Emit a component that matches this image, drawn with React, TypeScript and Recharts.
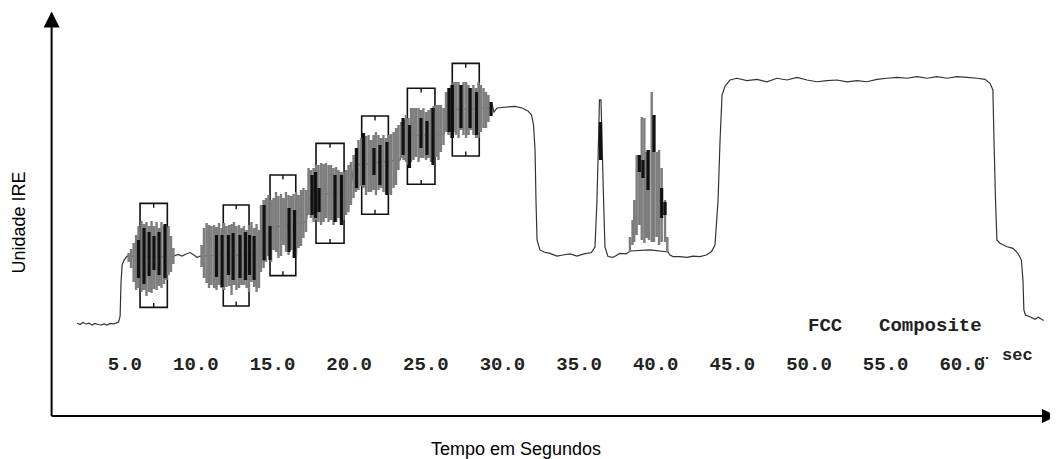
import React from 'react';
import {
  ComposedChart,
  Line,
  XAxis,
  YAxis,
  ReferenceArea,
  ReferenceLine,
  ReferenceDot,
} from 'recharts';

// ---------- data (x in microseconds, y in IRE) ----------
const traceX = [
  0.76, 0.96, 1.15, 1.35, 1.54, 1.74, 1.93, 2.13, 2.33, 2.52, 2.72, 2.91, 3.11, 3.3, 3.47, 3.57, 3.63, 3.7, 3.83, 4.02,
  6.96, 7.09, 7.35, 7.61, 7.87, 8.13, 8.39, 8.59, 8.78,
  10.74, 12.57, 12.83, 14.33, 15.7, 15.96, 18.57, 18.83, 21.83, 22.09, 24.7, 24.96, 27.7, 27.83, 27.96,
  28.16, 28.49, 28.87, 29.33, 29.79, 30.18, 30.41, 30.54, 30.64, 30.7, 30.77, 30.96, 31.22, 31.61, 32.07, 32.46, 32.92,
  33.38, 33.83, 34.32, 34.55, 34.68, 34.78, 34.84, 34.94, 35.01, 35.11, 35.2, 35.4, 35.72, 36.18, 36.6, 36.83, 38.14,
  39.31, 39.44, 39.64, 40.1, 40.55, 40.94, 41.4, 41.82, 42.15, 42.38, 42.58, 42.71, 42.84, 43.04, 43.36,
  43.81, 44.46, 45.12, 45.77, 46.42, 47.07, 47.73, 48.38, 49.03, 49.68, 50.34, 50.99, 51.64, 52.29, 52.95, 53.6,
  54.25, 54.9, 55.56, 56.21, 56.86, 57.51, 58.16, 58.82, 59.47, 59.99, 60.32, 60.51, 60.58, 60.68, 60.77, 60.97,
  61.43, 61.82, 62.14, 62.37, 62.47, 62.53, 62.63, 62.93, 63.25, 63.48, 63.81,
];
const traceY = [
  -38.9, -39.7, -38.6, -39.4, -38.9, -40.0, -39.1, -39.7, -40.0, -39.4, -40.0, -39.1, -39.4, -38.9, -38.3, -34.9, -15.4, -5.7, -2.9, -0.6,
  -1.1, -0.6, 0.3, -0.6, 0.6, 1.4, 0, -1.4, -0.6,
  0, -0.6, 15.4, 16.6, 18.9, 34.3, 36.0, 51.4, 54.3, 68.0, 69.1, 82.9, 84.0, 86.3, 81.7,
  84.0, 84.3, 84.6, 84.9, 84.0, 82.3, 80.0, 74.3, 60.0, 31.4, 8.6, 2.9, 1.7, 0.9, -0.6, 0, 0.6,
  -0.6, 0.6, 1.4, 4.6, 31.4, 65.7, 88.6, 88.6, 65.7, 31.4, 4.6, -0.9, -1.4, 0.9, 0.6, 2.3, 2.9,
  1.7, 0, -0.9, -0.9, -1.4, -0.6, -0.9, 0, 2.0, 5.7, 31.4, 65.7, 91.4, 96.6, 100.0,
  101.0, 99.6, 100.4, 99.0, 101.0, 100.0, 101.5, 100.0, 99.0, 99.6, 100.0, 98.9, 99.6, 99.0, 100.4, 101.0,
  101.5, 101.0, 101.9, 101.0, 101.9, 101.0, 101.9, 101.5, 101.0, 100.4, 98.1, 94.3, 65.7, 31.4, 8.6, 6.7,
  4.7, 3.8, 1.0, -2.9, -14.3, -31.4, -34.3, -35.3, -36.7, -35.6, -37.4,
];

// modulated bursts: [x, top, bottom]
const burst1Gray = [
  [4.12, 1.1, -4.0], [4.28, 3.4, -7.4], [4.45, 6.9, -15.4], [4.61, 11.4, -20.0], [4.77, 16.6, -18.9],
  [4.97, 19.4, -21.1], [5.13, 17.7, -20.0], [5.29, 18.9, -23.4], [5.46, 16.6, -21.1], [5.62, 19.4, -21.7],
  [5.78, 16.6, -19.4], [5.95, 18.9, -20.0], [6.11, 15.4, -17.7], [6.27, 18.9, -18.9], [6.44, 16.6, -16.6],
  [6.6, 15.4, -14.3], [6.73, 16.6, -11.4], [6.89, 10.9, -9.7], [7.05, 4.0, -5.1],
];
const burst1Black = [
  [4.77, 8.6, -13.1], [5.13, 15.4, -16.6], [5.46, 13.1, -12.0], [5.78, 10.9, -8.6], [6.11, 13.1, -11.4], [6.5, 17.7, -13.1],
];
const burst2Gray = [
  [8.88, 5.7, -6.9], [9.04, 15.4, -13.1], [9.21, 18.3, -16.0], [9.37, 17.1, -18.9], [9.53, 16.6, -17.1],
  [9.7, 17.1, -18.9], [9.86, 16.0, -20.0], [10.02, 18.3, -17.1], [10.19, 15.4, -18.9], [10.35, 18.3, -20.0],
  [10.51, 16.6, -18.3], [10.68, 17.1, -17.7], [10.84, 17.7, -22.9], [11.0, 18.9, -17.1], [11.16, 16.6, -20.0],
  [11.33, 17.1, -18.9], [11.49, 15.4, -17.1], [11.65, 16.6, -17.1], [11.82, 14.3, -18.9], [11.98, 17.1, -21.1],
  [12.14, 18.9, -15.4], [12.31, 15.4, -18.3], [12.47, 17.7, -21.1], [12.63, 14.3, -18.9],
];
const burst2Black = [
  [9.86, 11.4, -12.6], [10.22, 11.4, -18.3], [10.64, 11.4, -11.4], [10.94, 12.6, -14.3],
  [11.39, 11.4, -13.1], [11.75, 13.1, -14.3], [12.01, 11.4, -11.4], [12.31, 10.9, -14.3],
];
const burst3Gray = [
  [12.76, 28.6, -9.7], [12.93, 31.4, -7.4], [13.09, 32.6, -4.0], [13.25, 34.3, -0.6], [13.42, 31.4, -4.0],
  [13.58, 32.6, 2.9], [13.74, 36.0, 1.7], [13.9, 33.7, -1.7], [14.07, 34.9, -0.6], [14.23, 32.6, 5.7],
  [14.39, 36.0, 1.7], [14.56, 34.3, 0], [14.72, 33.7, 2.9], [14.88, 34.9, -1.7], [15.05, 36.0, 0],
  [15.21, 34.3, 4.0], [15.37, 37.1, 5.1], [15.53, 38.3, 9.7], [15.7, 37.1, 13.1],
];
const burst3Black = [
  [12.96, 28.6, -3.0], [13.35, 16.6, -2.9], [14.59, 26.9, 1.7], [14.95, 25.7, -1.7],
];
const burst4Gray = [
  [15.86, 49.7, 22.9], [16.02, 48.6, 21.1], [16.19, 49.7, 18.9], [16.35, 51.4, 20.0], [16.51, 51.4, 18.9],
  [16.68, 52.6, 17.1], [16.84, 52.0, 18.9], [17.0, 52.6, 21.1], [17.17, 51.4, 18.9], [17.33, 51.4, 20.0],
  [17.49, 49.7, 17.1], [17.66, 50.3, 18.9], [17.82, 48.6, 21.1], [17.98, 47.4, 17.1], [18.14, 47.4, 20.0],
  [18.31, 48.6, 22.9], [18.47, 51.4, 24.6], [18.63, 53.1, 28.6],
];
const burst4Black = [
  [16.09, 45.7, 22.9], [16.32, 47.4, 21.1], [16.55, 38.3, 24.6], [17.59, 45.7, 18.9], [18.01, 45.7, 17.1],
];
const burst5Gray = [
  [18.8, 57.1, 32.6], [18.96, 61.1, 36.0], [19.12, 65.7, 37.1], [19.29, 66.9, 39.4], [19.45, 68.6, 38.3],
  [19.61, 68.0, 34.3], [19.78, 68.6, 36.0], [19.94, 65.7, 36.0], [20.1, 68.6, 37.1], [20.26, 70.3, 34.3],
  [20.43, 68.6, 37.1], [20.59, 66.9, 38.3], [20.75, 68.6, 36.0], [20.92, 66.9, 34.3], [21.08, 68.6, 34.9],
  [21.24, 69.1, 34.3], [21.41, 70.3, 38.3], [21.57, 72.6, 40.0], [21.73, 74.3, 48.6], [21.9, 76.0, 55.4],
];
const burst5Black = [
  [18.99, 61.1, 38.3], [19.45, 69.7, 40.0], [20.13, 61.1, 45.7], [20.52, 62.9, 40.0], [20.98, 64.6, 34.3],
];
const burst6Gray = [
  [22.06, 77.1, 54.3], [22.22, 80.0, 53.1], [22.38, 78.3, 51.4], [22.55, 84.0, 53.1], [22.71, 84.0, 54.3],
  [22.87, 84.0, 56.0], [23.04, 84.0, 53.1], [23.2, 82.9, 55.4], [23.36, 84.0, 55.4], [23.53, 81.7, 54.3],
  [23.69, 82.9, 55.4], [23.85, 84.0, 53.1], [24.02, 85.1, 51.4], [24.18, 85.7, 56.0], [24.34, 85.7, 54.3],
  [24.5, 85.7, 58.9], [24.67, 84.0, 62.9],
];
const burst6Black = [
  [22.03, 78.3, 57.1], [22.45, 74.3, 49.7], [23.2, 78.3, 61.1], [23.59, 76.6, 57.1], [23.98, 84.0, 51.4],
];
const burst7Gray = [
  [24.83, 93.1, 70.3], [24.99, 95.4, 68.6], [25.16, 97.1, 66.9], [25.32, 98.9, 70.3], [25.48, 98.9, 68.6],
  [25.65, 98.9, 66.9], [25.81, 97.1, 71.4], [25.97, 98.9, 68.6], [26.14, 98.9, 66.9], [26.3, 97.1, 68.6],
  [26.46, 95.4, 71.4], [26.62, 97.1, 68.6], [26.79, 95.4, 66.9], [26.95, 98.9, 66.9], [27.11, 97.1, 70.3],
  [27.28, 95.4, 72.6], [27.44, 93.1, 72.6], [27.6, 91.4, 76.0],
];
const burst7Black = [
  [25.03, 95.4, 70.3], [25.25, 97.1, 66.9], [25.81, 97.1, 72.6], [26.4, 95.4, 72.6], [26.82, 93.1, 68.6], [27.77, 87.4, 79.4],
];
const pulseGray = [
  [36.83, 10.3, 1.7], [37.0, 20.0, 5.7], [37.11, 31.4, 7.4], [37.27, 57.1, 11.4], [37.44, 57.1, 17.1],
  [37.6, 78.9, 8.6], [37.77, 78.3, 6.9], [37.92, 58.9, 9.7], [38.07, 60.0, 8.6], [38.25, 93.1, 7.4],
  [38.4, 80.0, 7.4], [38.57, 58.9, 10.3], [38.73, 60.0, 5.7], [38.9, 49.7, 7.4], [39.12, 31.4, 7.4], [39.27, 10.3, 1.7],
];
const pulseBlack = [
  [34.91, 76.0, 54.3], [37.44, 57.1, 47.4], [37.68, 54.3, 44.0], [38.01, 60.0, 37.1], [38.4, 80.0, 58.9],
  [38.9, 38.3, 21.1], [39.12, 30.3, 22.9],
];

// boxes around the staircase bursts: [x1, x2, top, bottom]
const boxes = [
  [4.87, 6.65, 29.5, -29.9],
  [10.3, 11.98, 28.6, -29.1],
  [13.35, 15.03, 45.7, -11.8],
  [16.35, 18.18, 63.8, 6.7],
  [19.33, 21.07, 79.4, 23.3],
  [22.31, 24.11, 95.3, 40.4],
  [25.24, 27.0, 109.5, 56.6],
];

const tickValues = [5, 10, 15, 20, 25, 30, 35, 40, 45, 50, 55, 60];
const tickLabels = ['5.0', '10.0', '15.0', '20.0', '25.0', '30.0', '35.0', '40.0', '45.0', '50.0', '55.0', '60.0\u0308'];

// ---------- derived tables ----------
const traceData = traceX.map((x, i) => ({ x, y: traceY[i] }));

function toSegments(strokes: number[][]) {
  const rows: { x: number; v: number | null }[] = [];
  strokes.forEach(([x, hi, lo]) => {
    rows.push({ x, v: lo });
    rows.push({ x, v: hi });
    rows.push({ x, v: null });
  });
  return rows;
}

const grayData = toSegments([
  ...burst1Gray, ...burst2Gray, ...burst3Gray, ...burst4Gray, ...burst5Gray, ...burst6Gray, ...burst7Gray, ...pulseGray,
]);
const blackData = toSegments([
  ...burst1Black, ...burst2Black, ...burst3Black, ...burst4Black, ...burst5Black, ...burst6Black, ...burst7Black, ...pulseBlack,
]);

const X_DOMAIN: [number, number] = [-0.9, 64.3];
const Y_DOMAIN: [number, number] = [-92, 138];
const BOX_TICK = 2.5;

const MONO = "'Liberation Mono', 'Courier New', monospace";
const SANS = "'Liberation Sans', Arial, sans-serif";

const MonoTick = (props: any) => {
  const { x, y, payload } = props;
  const idx = tickValues.indexOf(payload.value);
  return (
    <text x={x} y={y - 46.5} textAnchor="end" fontFamily={MONO} fontSize={19} fontWeight="bold" fill="#222">
      {tickLabels[idx]}
    </text>
  );
};

const UpArrow = (props: any) => {
  const { cx, cy } = props;
  return <polygon points={`${cx},${cy - 2} ${cx - 8},${cy + 14} ${cx + 8},${cy + 14}`} fill="#000" />;
};
const RightArrow = (props: any) => {
  const { cx, cy } = props;
  return <polygon points={`${cx + 6},${cy} ${cx - 9},${cy - 7} ${cx - 9},${cy + 7}`} fill="#000" />;
};

export default function App() {
  return (
    <ComposedChart
      width={1050}
      height={451}
      margin={{ top: 5.5, right: 7, bottom: 13, left: 3.6 }}
      style={{ background: '#fff' }}
    >
      <XAxis
        dataKey="x"
        type="number"
        domain={X_DOMAIN}
        allowDataOverflow
        ticks={tickValues}
        interval={0}
        height={30}
        tickLine={false}
        tickSize={0}
        tickMargin={0}
        axisLine={{ stroke: '#000', strokeWidth: 2 }}
        tick={<MonoTick />}
      />
      <YAxis
        type="number"
        domain={Y_DOMAIN}
        allowDataOverflow
        width={40}
        tick={false}
        tickLine={false}
        axisLine={{ stroke: '#000', strokeWidth: 2 }}
      />
      <Line
        data={traceData}
        dataKey="y"
        type="linear"
        stroke="#333"
        strokeWidth={1.2}
        dot={false}
        activeDot={false}
        isAnimationActive={false}
      />
      <Line
        data={grayData}
        dataKey="v"
        stroke="#7d7d7d"
        strokeWidth={2.4}
        dot={false}
        activeDot={false}
        isAnimationActive={false}
        connectNulls={false}
      />
      <Line
        data={blackData}
        dataKey="v"
        stroke="#111"
        strokeWidth={3.2}
        dot={false}
        activeDot={false}
        isAnimationActive={false}
        connectNulls={false}
      />
      {boxes.map(([x1, x2, top, bot], i) => (
        <ReferenceArea key={`b${i}`} x1={x1} x2={x2} y1={bot} y2={top} fill="none" stroke="#111" strokeWidth={1.6} />
      ))}
      {boxes.map(([x1, x2, top], i) => (
        <ReferenceLine
          key={`tt${i}`}
          segment={[{ x: (x1 + x2) / 2, y: top }, { x: (x1 + x2) / 2, y: top - BOX_TICK }]}
          stroke="#111"
          strokeWidth={1.4}
        />
      ))}
      {boxes.map(([x1, x2, , bot], i) => (
        <ReferenceLine
          key={`tb${i}`}
          segment={[{ x: (x1 + x2) / 2, y: bot }, { x: (x1 + x2) / 2, y: bot + BOX_TICK }]}
          stroke="#111"
          strokeWidth={1.4}
        />
      ))}
      <ReferenceDot x={X_DOMAIN[0]} y={Y_DOMAIN[1]} ifOverflow="visible" shape={<UpArrow />} />
      <ReferenceDot x={X_DOMAIN[1]} y={Y_DOMAIN[0]} ifOverflow="visible" shape={<RightArrow />} />
      <text x={800} y={323} fontFamily={MONO} fontSize={19} fontWeight="bold" fill="#222">FCC</text>
      <text x={871} y={323} fontFamily={MONO} fontSize={19} fontWeight="bold" fill="#222">Composite</text>
      <text x={994} y={352} fontFamily={MONO} fontSize={17} fontWeight="bold" fill="#222">sec</text>
      <text
        x={17}
        y={214.5}
        transform="rotate(-90 17 214.5)"
        textAnchor="middle"
        fontFamily={SANS}
        fontSize={18}
        fill="#000"
      >
        Unidade IRE
      </text>
      <text x={508} y={447} textAnchor="middle" fontFamily={SANS} fontSize={18} fill="#000">
        Tempo em Segundos
      </text>
    </ComposedChart>
  );
}
